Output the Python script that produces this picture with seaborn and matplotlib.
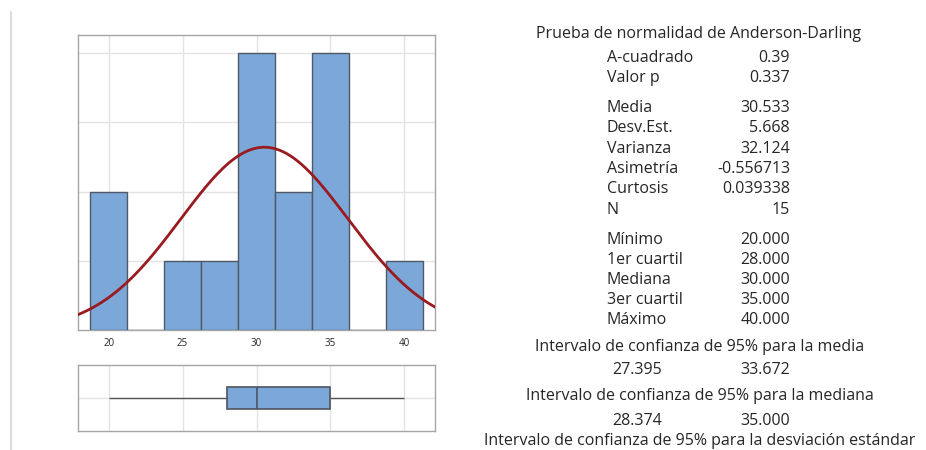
import numpy as np
import pandas as pd
import matplotlib
matplotlib.use("Agg")
import matplotlib.pyplot as plt
from matplotlib.lines import Line2D
import seaborn as sns

# ---- data ----
bin_centers = [20.0, 22.5, 25.0, 27.5, 30.0, 32.5, 35.0, 37.5, 40.0]
bin_counts = [2, 0, 1, 1, 4, 2, 4, 0, 1]
bin_width = 2.5
five_number_summary = [20.0, 28.0, 30.0, 35.0, 40.0]
mean_value = 30.533
std_value = 5.668
n_obs = 15
x_ticks = [20, 25, 30, 35, 40]

title_ad = "Prueba de normalidad de Anderson-Darling"
block1_labels = ["A-cuadrado", "Valor p"]
block1_values = ["0.39", "0.337"]
block2_labels = ["Media", "Desv.Est.", "Varianza", "Asimetría", "Curtosis", "N"]
block2_values = ["30.533", "5.668", "32.124", "-0.556713", "0.039338", "15"]
block3_labels = ["Mínimo", "1er cuartil", "Mediana", "3er cuartil", "Máximo"]
block3_values = ["20.000", "28.000", "30.000", "35.000", "40.000"]
ci_titles = ["Intervalo de confianza de 95% para la media",
             "Intervalo de confianza de 95% para la mediana",
             "Intervalo de confianza de 95% para la desviación estándar"]
ci_values = [("27.395", "33.672"), ("28.374", "35.000")]

sns.set_theme(style="white")
plt.rcParams["font.family"] = ["Open Sans", "DejaVu Sans"]

BAR = "#7ba7d9"
EDGE = "#505a66"
CURVE = "#9a1b1f"
GRID = "#e3e3e3"
FRAME = "#a6a6a6"
TXT = "#262626"

fig = plt.figure(figsize=(9.26, 4.5), dpi=100)

# histogram
ax = fig.add_axes([78 / 926, (450 - 330) / 450, 357 / 926, 295 / 450])
df = pd.DataFrame({"x": bin_centers, "w": bin_counts})
lo = bin_centers[0] - bin_width / 2
hi = bin_centers[-1] + bin_width / 2
sns.histplot(data=df, x="x", weights="w", binwidth=bin_width, binrange=(lo, hi),
             ax=ax, color=BAR, alpha=1.0, edgecolor=EDGE, linewidth=1.0, zorder=3)
xs = np.linspace(17.9, 42.1, 300)
ys = n_obs * bin_width * np.exp(-0.5 * ((xs - mean_value) / std_value) ** 2) / (std_value * np.sqrt(2 * np.pi))
sns.lineplot(x=xs, y=ys, ax=ax, color=CURVE, linewidth=2.0, zorder=4)
ax.set_xlim(17.92, 42.08)
ax.set_ylim(0, 4.26)
ax.set_xticks(x_ticks)
ax.set_xticklabels([str(t) for t in x_ticks])
ax.set_yticks([1, 2, 3, 4])
ax.set_yticklabels([])
ax.tick_params(axis="x", length=2.5, width=0.8, color=FRAME, labelsize=7, labelcolor=TXT, pad=3)
ax.tick_params(axis="y", length=0)
ax.grid(True, color=GRID, linewidth=1.0, zorder=0)
ax.set_axisbelow(True)
ax.set_xlabel("")
ax.set_ylabel("")
for s in ax.spines.values():
    s.set_color(FRAME)
    s.set_linewidth(1.0)

# boxplot
bx = fig.add_axes([78 / 926, (450 - 431) / 450, 357 / 926, 66 / 450])
sns.boxplot(x=five_number_summary, ax=bx, orient="h", width=0.33, whis=1.5,
            color=BAR, saturation=1,
            boxprops=dict(edgecolor="#4d5560", linewidth=1.2),
            medianprops=dict(color="#4d5560", linewidth=1.2),
            whiskerprops=dict(color="#555555", linewidth=1.0),
            capprops=dict(linewidth=0), showfliers=False, zorder=3)
bx.set_xlim(17.92, 42.08)
bx.set_ylim(0.5, -0.5)
bx.set_xticks(x_ticks)
bx.set_xticklabels([])
bx.set_yticks([0])
bx.set_yticklabels([])
bx.tick_params(length=0)
bx.grid(True, color=GRID, linewidth=1.0, zorder=0)
bx.set_axisbelow(True)
bx.set_xlabel("")
bx.set_ylabel("")
for s in bx.spines.values():
    s.set_color(FRAME)
    s.set_linewidth(1.0)

# left separator line
fig.add_artist(Line2D([10.5 / 926, 10.5 / 926], [0, 1 - 12 / 450], color="#dddddd", linewidth=1.5))

# text panel
FS = 11.5
DY = 2
def ty(y):
    return 1 - (y + DY) / 450

fig.text(698 / 926, ty(32), title_ad, ha="center", va="center", fontsize=FS, color=TXT)
lab_x = 607 / 926
val_x = 790 / 926
rows = [(block1_labels, block1_values, [56, 76]),
        (block2_labels, block2_values, [106, 126, 147, 167, 187, 208]),
        (block3_labels, block3_values, [238, 258, 278, 298, 318])]
for labs, vals, yy in rows:
    for l, v, y in zip(labs, vals, yy):
        fig.text(lab_x, ty(y), l, ha="left", va="center", fontsize=FS, color=TXT)
        fig.text(val_x, ty(y), v, ha="right", va="center", fontsize=FS, color=TXT)

ci_title_y = [345, 394, 439]
ci_val_y = [368, 419]
for t, y in zip(ci_titles, ci_title_y):
    fig.text(700 / 926, ty(y), t, ha="center", va="center", fontsize=FS, color=TXT)
for (a, b), y in zip(ci_values, ci_val_y):
    fig.text(637 / 926, ty(y), a, ha="center", va="center", fontsize=FS, color=TXT)
    fig.text(val_x, ty(y), b, ha="right", va="center", fontsize=FS, color=TXT)

fig.savefig("out.png", dpi=100)
